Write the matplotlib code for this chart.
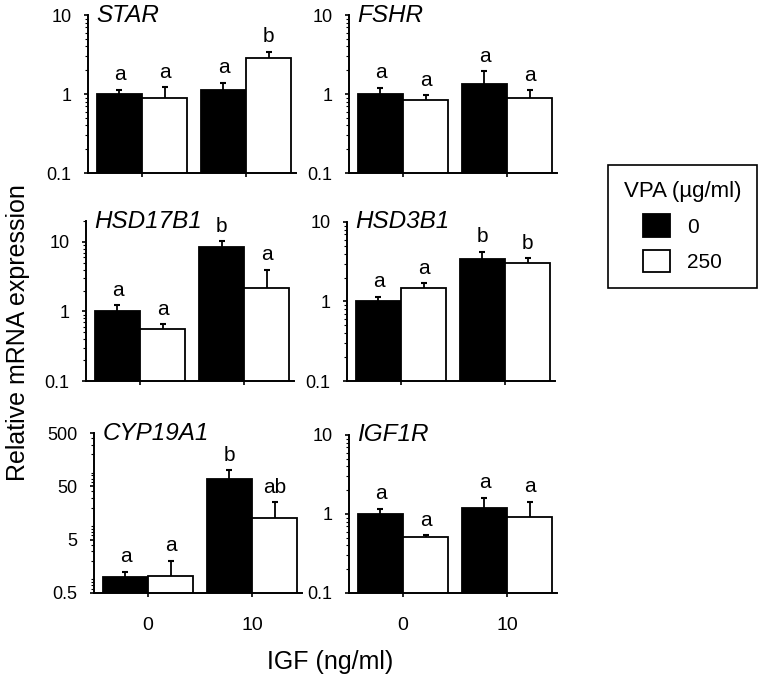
import matplotlib
matplotlib.use("Agg")
import matplotlib.pyplot as plt
from matplotlib.patches import Patch

plt.rcParams["font.family"] = ["Liberation Sans", "DejaVu Sans"]

# IGF doses (x axis)
igf_dosis = ["0", "10"]

# Expresion relativa (media) y error superior, VPA 0 y VPA 250
star_vpa0 = [1.0, 1.12]
star_vpa0_err = [0.13, 0.26]
star_vpa250 = [0.88, 2.85]
star_vpa250_err = [0.34, 0.60]
star_letras = [["a", "a"], ["a", "b"]]

fshr_vpa0 = [1.0, 1.34]
fshr_vpa0_err = [0.19, 0.61]
fshr_vpa250 = [0.84, 0.89]
fshr_vpa250_err = [0.13, 0.23]
fshr_letras = [["a", "a"], ["a", "a"]]

hsd17b1_vpa0 = [1.0, 8.4]
hsd17b1_vpa0_err = [0.22, 1.9]
hsd17b1_vpa250 = [0.56, 2.2]
hsd17b1_vpa250_err = [0.09, 1.8]
hsd17b1_letras = [["a", "b"], ["a", "a"]]

hsd3b1_vpa0 = [1.0, 3.4]
hsd3b1_vpa0_err = [0.14, 0.8]
hsd3b1_vpa250 = [1.48, 3.05]
hsd3b1_vpa250_err = [0.22, 0.45]
hsd3b1_letras = [["a", "b"], ["a", "b"]]

cyp19a1_vpa0 = [1.0, 68.0]
cyp19a1_vpa0_err = [0.25, 32.0]
cyp19a1_vpa250 = [1.05, 12.5]
cyp19a1_vpa250_err = [0.95, 12.5]
cyp19a1_letras = [["a", "b"], ["a", "ab"]]

igf1r_vpa0 = [1.0, 1.19]
igf1r_vpa0_err = [0.16, 0.41]
igf1r_vpa250 = [0.51, 0.92]
igf1r_vpa250_err = [0.03, 0.50]
igf1r_letras = [["a", "a"], ["a", "a"]]

# gen, datos, limites y, ticks y, posicion del eje [left, bottom, width, height]
paneles = [
    ("STAR", star_vpa0, star_vpa0_err, star_vpa250, star_vpa250_err, star_letras,
     (0.1, 10), [0.1, 1, 10], ["0.1", "1", "10"], [0.1152, 0.7478, 0.2723, 0.2303]),
    ("FSHR", fshr_vpa0, fshr_vpa0_err, fshr_vpa250, fshr_vpa250_err, fshr_letras,
     (0.1, 10), [0.1, 1, 10], ["0.1", "1", "10"], [0.4568, 0.7478, 0.2723, 0.2303]),
    ("HSD17B1", hsd17b1_vpa0, hsd17b1_vpa0_err, hsd17b1_vpa250, hsd17b1_vpa250_err, hsd17b1_letras,
     (0.1, 20), [0.1, 1, 10], ["0.1", "1", "10"], [0.1126, 0.4446, 0.2723, 0.2332]),
    ("HSD3B1", hsd3b1_vpa0, hsd3b1_vpa0_err, hsd3b1_vpa250, hsd3b1_vpa250_err, hsd3b1_letras,
     (0.1, 10), [0.1, 1, 10], ["0.1", "1", "10"], [0.4542, 0.4446, 0.2723, 0.2318]),
    ("CYP19A1", cyp19a1_vpa0, cyp19a1_vpa0_err, cyp19a1_vpa250, cyp19a1_vpa250_err, cyp19a1_letras,
     (0.5, 500), [0.5, 5, 50, 500], ["0.5", "5", "50", "500"], [0.1230, 0.1356, 0.2723, 0.2332]),
    ("IGF1R", igf1r_vpa0, igf1r_vpa0_err, igf1r_vpa250, igf1r_vpa250_err, igf1r_letras,
     (0.1, 10), [0.1, 1, 10], ["0.1", "1", "10"], [0.4568, 0.1356, 0.2723, 0.2303]),
]

fig = plt.figure(figsize=(7.64, 6.86), dpi=100)

x = [0, 1]
ancho = 0.435

for i, (gen, v0, e0, v250, e250, letras, ylim, yt, ytl, pos) in enumerate(paneles):
    ax = fig.add_axes(pos)
    ax.set_yscale("log")
    xs0 = [xi - ancho / 2 for xi in x]
    xs250 = [xi + ancho / 2 for xi in x]
    for xs, v, e, color in [(xs0, v0, e0, "black"), (xs250, v250, e250, "white")]:
        ax.bar(xs, v, width=ancho, color=color, edgecolor="black", linewidth=1.3, zorder=2)
        tops = [vi + ei for vi, ei in zip(v, e)]
        # solo error hacia arriba, con tapa arriba
        ax.vlines(xs, v, tops, color="black", linewidth=1.3, zorder=1)
        ax.plot(xs, tops, linestyle="none", marker="_", markersize=5, markeredgewidth=1.5, color="black", zorder=1)

    # letras de significancia
    for j in range(2):
        ax.annotate(letras[0][j], (xs0[j], v0[j] + e0[j]), xytext=(0, 4), textcoords="offset points",
                    ha="center", va="bottom", fontsize=15)
        ax.annotate(letras[1][j], (xs250[j], v250[j] + e250[j]), xytext=(0, 4), textcoords="offset points",
                    ha="center", va="bottom", fontsize=15)

    ax.set_ylim(*ylim)
    ax.set_xlim(-0.52, 1.48)
    ax.set_yticks(yt)
    ax.set_yticklabels(ytl)
    ax.set_xticks(x)
    if i >= 4:
        ax.set_xticklabels(igf_dosis, fontsize=14)
    else:
        ax.set_xticklabels([])

    ax.text(0.04, 1.0, gen, transform=ax.transAxes, fontsize=17.5, style="italic", ha="left", va="center")

    for lado in ["top", "right"]:
        ax.spines[lado].set_visible(False)
    for lado in ["left", "bottom"]:
        ax.spines[lado].set_linewidth(1.4)
        ax.spines[lado].set_zorder(3)
    ax.tick_params(axis="y", which="major", direction="out", length=3, width=1.2, pad=9, labelsize=13)
    ax.tick_params(axis="y", which="minor", direction="out", length=2, width=0.8)
    ax.tick_params(axis="x", which="major", direction="out", length=3, width=1.2, pad=14)
    ax.patch.set_alpha(0)

fig.text(0.024, 0.515, "Relative mRNA expression", rotation=90, ha="center", va="center", fontsize=18)
fig.text(0.432, 0.035, "IGF (ng/ml)", ha="center", va="center", fontsize=18)

handles = [Patch(facecolor="black", edgecolor="black", linewidth=1.3, label="0"),
           Patch(facecolor="white", edgecolor="black", linewidth=1.3, label="250")]
leg = fig.legend(handles=handles, title="VPA (\u00b5g/ml)", loc="upper left",
                 bbox_to_anchor=(0.796, 0.759), fontsize=15, title_fontsize=16,
                 handlelength=1.3, handleheight=1.3, labelspacing=0.6, borderpad=0.75,
                 borderaxespad=0, fancybox=False, edgecolor="black", framealpha=1)
leg.get_frame().set_linewidth(1.2)

plt.savefig("out.png", dpi=100)
